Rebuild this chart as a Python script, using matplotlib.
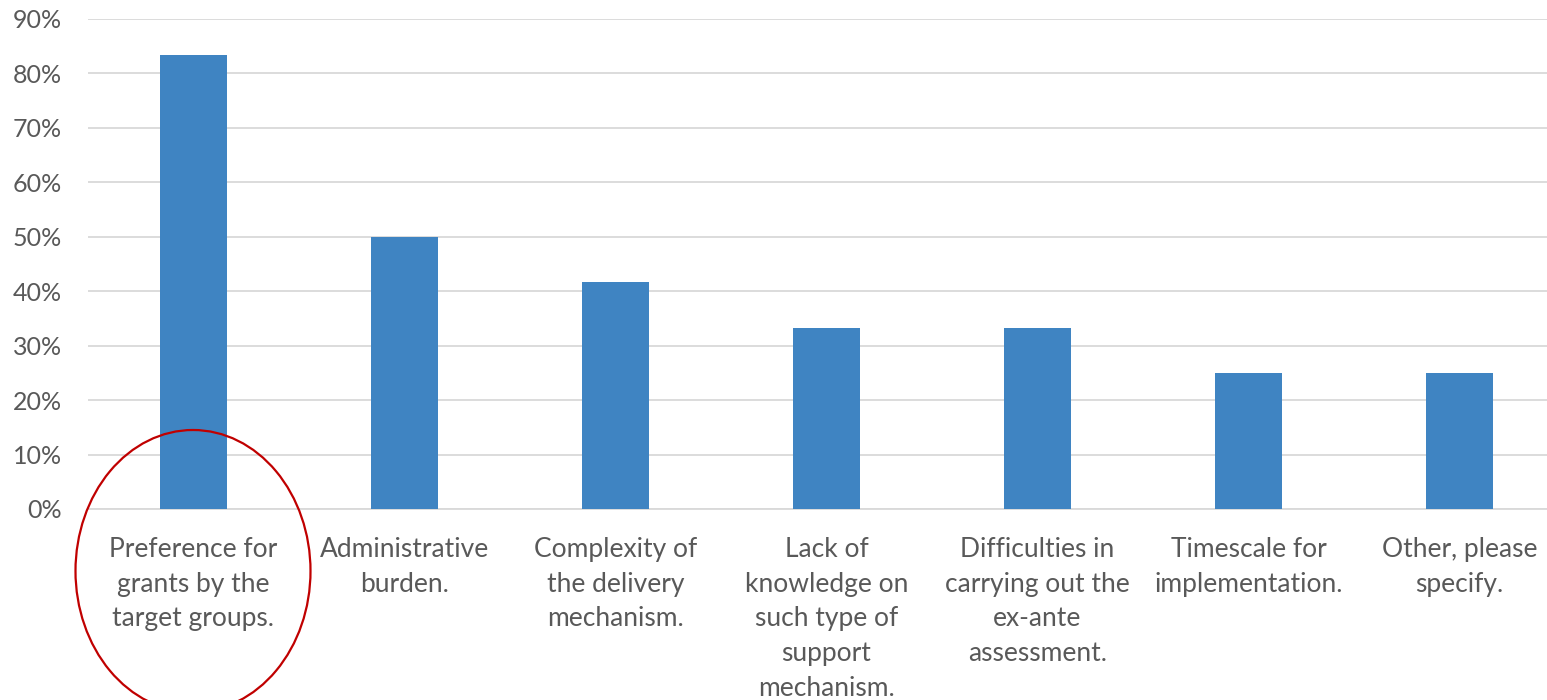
import matplotlib
matplotlib.use("Agg")
import matplotlib.pyplot as plt
from matplotlib.patches import Ellipse

categories = [
    "Preference for\ngrants by the\ntarget groups.",
    "Administrative\nburden.",
    "Complexity of\nthe delivery\nmechanism.",
    "Lack of\nknowledge on\nsuch type of\nsupport\nmechanism.",
    "Difficulties in\ncarrying out the\nex-ante\nassessment.",
    "Timescale for\nimplementation.",
    "Other, please\nspecify.",
]
shares = [83.3, 50.0, 41.7, 33.3, 33.3, 25.0, 25.0]
y_ticks = [0, 10, 20, 30, 40, 50, 60, 70, 80, 90]

plt.rcParams['font.family'] = ['Lato', 'DejaVu Sans']
text_color = "#595959"

fig = plt.figure(figsize=(15.47, 7.0), dpi=100)
ax = fig.add_axes([88 / 1547, 1 - 509 / 700, 1 - 88 / 1547, (509 - 19) / 700])

x = list(range(len(categories)))
ax.bar(x, shares, width=0.313, color="#3f84c2", zorder=3)

ax.set_ylim(0, 90)
# plot area runs a little past the right edge of the picture
ax.set_xlim(-0.5, -0.5 + 1459 / 211)
ax.set_yticks(y_ticks)
ax.set_yticklabels([f"{t}%" for t in y_ticks])
ax.set_xticks(x)
ax.set_xticklabels(categories, linespacing=1.49)

ax.yaxis.grid(True, color="#d9d9d9", linewidth=1.3, zorder=0)
for side in ["top", "right", "left"]:
    ax.spines[side].set_visible(False)
ax.spines["bottom"].set_color("#d9d9d9")
ax.spines["bottom"].set_linewidth(1.3)
ax.tick_params(axis="x", length=0, labelsize=19, colors=text_color, pad=20)
ax.tick_params(axis="y", length=0, labelsize=18, colors=text_color, pad=19)

# red ellipse around the first category, in pixel coordinates of the figure
ell = Ellipse((193, 700 - 571), 235, 282, transform=None, fill=False,
              edgecolor="#c00000", linewidth=1.6, clip_on=False)
fig.add_artist(ell)

fig.savefig("out.png", dpi=100)
